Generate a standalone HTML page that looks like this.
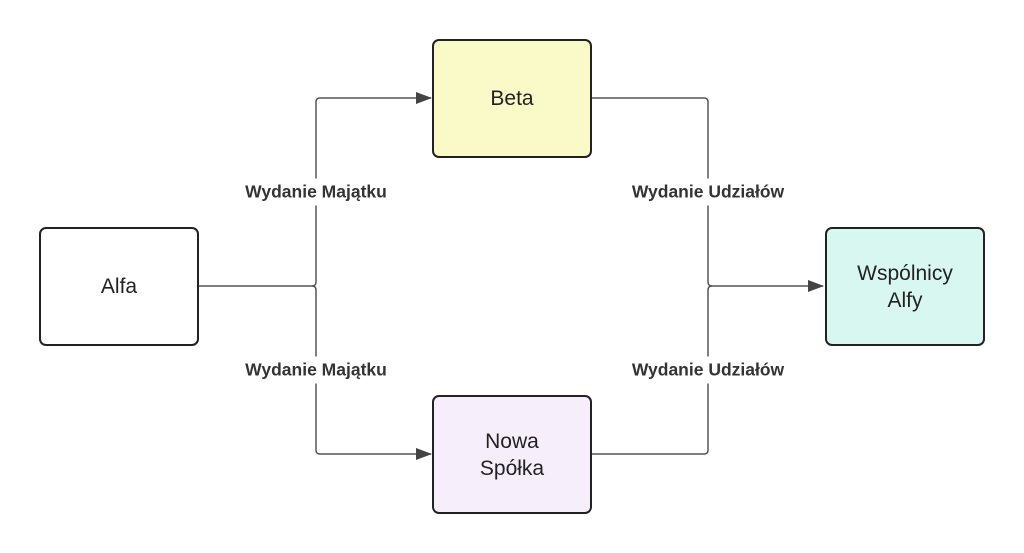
<!DOCTYPE html>
<html><head><meta charset="utf-8"><style>
body{margin:0;background:#fff;width:1024px;height:553px;overflow:hidden;font-family:"Liberation Sans",sans-serif}
.box{position:absolute;border:2px solid #222;border-radius:7px;box-sizing:border-box;display:flex;align-items:center;justify-content:center;text-align:center;font-size:21px;color:#222;line-height:27px}
.lbl{position:absolute;background:#fff;font-weight:bold;font-size:17.5px;color:#333;transform:translate(-50%,-50%);white-space:nowrap;padding:3px 0}
</style></head><body>
<svg width="1024" height="553" style="position:absolute;left:0;top:0">
<defs><marker id="a" markerWidth="16" markerHeight="12" refX="15" refY="6" orient="auto" markerUnits="userSpaceOnUse"><path d="M0,0 L16,6 L0,12 z" fill="#444"/></marker></defs>
<g fill="none" stroke="#555" stroke-width="1.5">
<path d="M198,286 H312 Q316,286 316,282 V102 Q316,98 320,98 H431" marker-end="url(#a)"/>
<path d="M312,286 Q316,286 316,290 V450 Q316,454 320,454 H431" marker-end="url(#a)"/>
<path d="M591,98 H704 Q708,98 708,102 V282 Q708,286 712,286 H823" marker-end="url(#a)"/>
<path d="M591,454 H704 Q708,454 708,450 V290 Q708,286 712,286"/>
</g></svg>
<div class="box" style="left:39px;top:227px;width:160px;height:119px;background:#fff">Alfa</div>
<div class="box" style="left:432px;top:39px;width:160px;height:119px;background:#fafac8">Beta</div>
<div class="box" style="left:432px;top:395px;width:160px;height:119px;background:#f7eefc">Nowa<br>Spółka</div>
<div class="box" style="left:825px;top:227px;width:160px;height:119px;background:#d8f7f1">Wspólnicy<br>Alfy</div>
<div class="lbl" style="left:316px;top:192px">Wydanie Majątku</div>
<div class="lbl" style="left:316px;top:370px">Wydanie Majątku</div>
<div class="lbl" style="left:708px;top:192px">Wydanie Udziałów</div>
<div class="lbl" style="left:708px;top:370px">Wydanie Udziałów</div>
</body></html>
